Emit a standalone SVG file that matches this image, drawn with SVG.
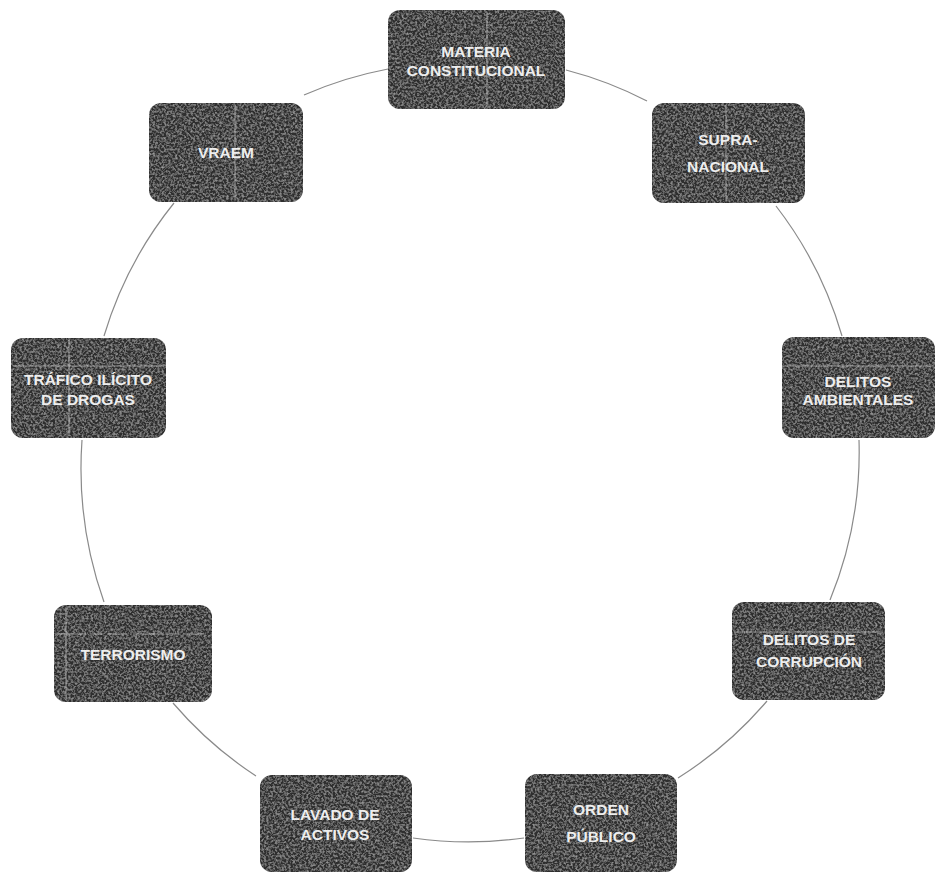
<svg xmlns="http://www.w3.org/2000/svg" width="936" height="877" viewBox="0 0 936 877">
  <style>
    .box { fill: #2f2f2f; filter: url(#grain); }
    .lbl { font-family: "Liberation Sans", Arial, sans-serif; font-size: 15.5px; font-weight: bold; fill: #eeeeee; text-anchor: middle; }
    .conn { fill: none; stroke: #8a8a8a; stroke-width: 1.2; }
    .scan { stroke: #cfcfcf; stroke-width: 1.1; opacity: 0.6; }
  </style>
  <defs>
    <filter id="grain" x="0" y="0" width="100%" height="100%">
      <feTurbulence type="fractalNoise" baseFrequency="0.45" numOctaves="3" seed="7" result="n"/>
      <feColorMatrix in="n" type="matrix" values="0 0 0 0 0.6  0 0 0 0 0.6  0 0 0 0 0.6  1.1 0 0 0 -0.45" result="g"/>
      <feComposite in="g" in2="SourceGraphic" operator="in" result="gm"/>
      <feMerge>
        <feMergeNode in="SourceGraphic"/>
        <feMergeNode in="gm"/>
      </feMerge>
    </filter>
  </defs>
  <rect width="936" height="877" fill="#ffffff"/>

  <g id="connectors">
    <path class="conn" d="M 304 95 A 390 390 0 0 1 388 69"/>
    <path class="conn" d="M 566 70 A 390 390 0 0 1 647 101"/>
    <path class="conn" d="M 776 206 A 390 390 0 0 1 842 336"/>
    <path class="conn" d="M 859 440 A 390 390 0 0 1 830 600"/>
    <path class="conn" d="M 767 701 A 390 390 0 0 1 678 778"/>
    <path class="conn" d="M 524 838 A 400 400 0 0 1 413 838"/>
    <path class="conn" d="M 256 776 A 390 390 0 0 1 173 703"/>
    <path class="conn" d="M 104 602 A 400 400 0 0 1 82 440"/>
    <path class="conn" d="M 104 336 A 390 390 0 0 1 174 203"/>
  </g>

  <g id="materia-constitucional">
    <rect class="box" x="388" y="10" width="177" height="99" rx="12"/>
    <line class="scan" x1="487" y1="12" x2="487" y2="107"/>
    <text class="lbl" x="476" y="57">MATERIA</text>
    <text class="lbl" x="476" y="76">CONSTITUCIONAL</text>
  </g>

  <g id="supra-nacional">
    <rect class="box" x="652" y="103" width="153" height="100" rx="12"/>
    <line class="scan" x1="726" y1="105" x2="726" y2="201"/>
    <text class="lbl" x="728" y="145">SUPRA-</text>
    <text class="lbl" x="728" y="172">NACIONAL</text>
  </g>

  <g id="delitos-ambientales">
    <rect class="box" x="782" y="337" width="153" height="101" rx="12"/>
    <line class="scan" x1="784" y1="366" x2="933" y2="366"/>
    <text class="lbl" x="858" y="387">DELITOS</text>
    <text class="lbl" x="858" y="405">AMBIENTALES</text>
  </g>

  <g id="delitos-corrupcion">
    <rect class="box" x="732" y="602" width="153" height="98" rx="12"/>
    <line class="scan" x1="734" y1="632" x2="883" y2="632"/>
    <text class="lbl" x="809" y="645">DELITOS DE</text>
    <text class="lbl" x="809" y="667">CORRUPCIÓN</text>
  </g>

  <g id="orden-publico">
    <rect class="box" x="525" y="774" width="152" height="98" rx="12"/>
    <text class="lbl" x="601" y="815">ORDEN</text>
    <text class="lbl" x="601" y="842">PÚBLICO</text>
  </g>

  <g id="lavado-de-activos">
    <rect class="box" x="260" y="775" width="152" height="97" rx="12"/>
    <text class="lbl" x="335" y="820">LAVADO DE</text>
    <text class="lbl" x="335" y="840">ACTIVOS</text>
  </g>

  <g id="terrorismo">
    <rect class="box" x="54" y="605" width="158" height="97" rx="12"/>
    <line class="scan" x1="66" y1="607" x2="66" y2="700"/>
    <line class="scan" x1="56" y1="634" x2="210" y2="634" stroke-dasharray="30 4 12 5 20 6"/>
    <text class="lbl" x="133" y="660">TERRORISMO</text>
  </g>

  <g id="trafico-ilicito-de-drogas">
    <rect class="box" x="11" y="338" width="155" height="100" rx="12"/>
    <line class="scan" x1="69" y1="340" x2="69" y2="436"/>
    <line class="scan" x1="13" y1="366" x2="164" y2="366"/>
    <text class="lbl" x="88" y="385">TRÁFICO ILÍCITO</text>
    <text class="lbl" x="88" y="405">DE DROGAS</text>
  </g>

  <g id="vraem">
    <rect class="box" x="149" y="103" width="154" height="99" rx="12"/>
    <line class="scan" x1="235" y1="105" x2="235" y2="200"/>
    <text class="lbl" x="226" y="158">VRAEM</text>
  </g>
</svg>
